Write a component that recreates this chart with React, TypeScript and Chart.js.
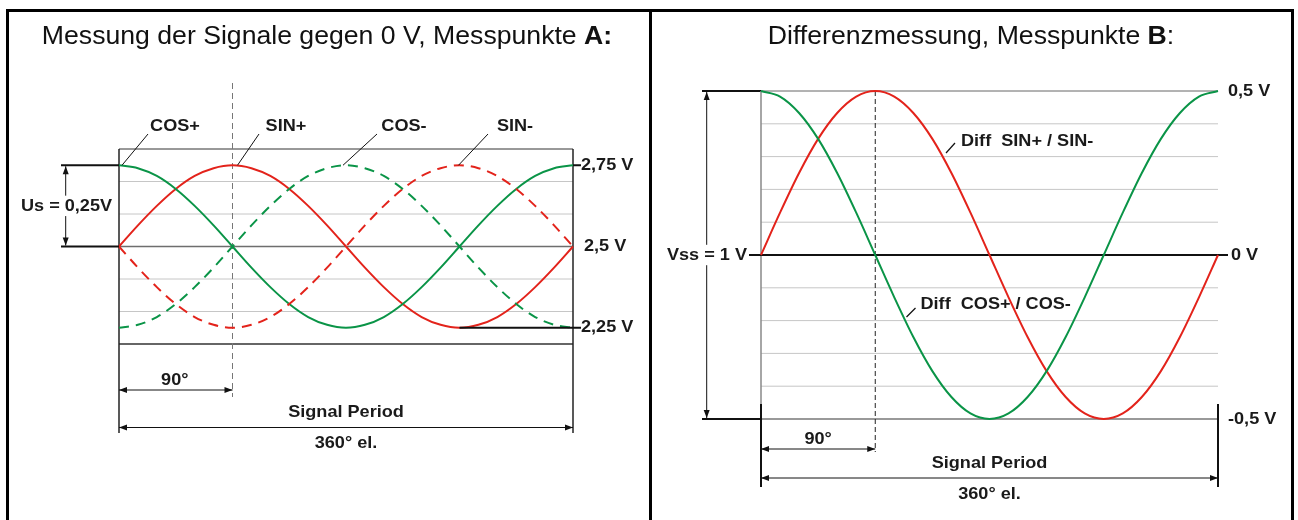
import { useEffect, useRef } from 'react';
import { Chart, registerables } from 'chart.js';

Chart.register(...registerables);

// Electrical angle of one signal period, sampled every 15°
const degrees = [0, 15, 30, 45, 60, 75, 90, 105, 120, 135, 150, 165, 180, 195, 210, 225, 240, 255, 270, 285, 300, 315, 330, 345, 360];

// Single-ended signals against 0 V (volts)
const cosPlus = [2.75, 2.741, 2.717, 2.677, 2.625, 2.565, 2.5, 2.435, 2.375, 2.323, 2.283, 2.259, 2.25, 2.259, 2.283, 2.323, 2.375, 2.435, 2.5, 2.565, 2.625, 2.677, 2.717, 2.741, 2.75];
const sinPlus = [2.5, 2.565, 2.625, 2.677, 2.717, 2.741, 2.75, 2.741, 2.717, 2.677, 2.625, 2.565, 2.5, 2.435, 2.375, 2.323, 2.283, 2.259, 2.25, 2.259, 2.283, 2.323, 2.375, 2.435, 2.5];
const cosMinus = [2.25, 2.259, 2.283, 2.323, 2.375, 2.435, 2.5, 2.565, 2.625, 2.677, 2.717, 2.741, 2.75, 2.741, 2.717, 2.677, 2.625, 2.565, 2.5, 2.435, 2.375, 2.323, 2.283, 2.259, 2.25];
const sinMinus = [2.5, 2.435, 2.375, 2.323, 2.283, 2.259, 2.25, 2.259, 2.283, 2.323, 2.375, 2.435, 2.5, 2.565, 2.625, 2.677, 2.717, 2.741, 2.75, 2.741, 2.717, 2.677, 2.625, 2.565, 2.5];

// Differential signals (volts)
const diffSin = [0, 0.129, 0.25, 0.354, 0.433, 0.483, 0.5, 0.483, 0.433, 0.354, 0.25, 0.129, 0, -0.129, -0.25, -0.354, -0.433, -0.483, -0.5, -0.483, -0.433, -0.354, -0.25, -0.129, 0];
const diffCos = [0.5, 0.483, 0.433, 0.354, 0.25, 0.129, 0, -0.129, -0.25, -0.354, -0.433, -0.483, -0.5, -0.483, -0.433, -0.354, -0.25, -0.129, 0, 0.129, 0.25, 0.354, 0.433, 0.483, 0.5];

// Level labels
const levelsA = [2.75, 2.5, 2.25];
const levelLabelsA = ['2,75 V', '2,5 V', '2,25 V'];
const levelsB = [0.5, 0, -0.5];
const levelLabelsB = ['0,5 V', '0 V', '-0,5 V'];
const gridA = [2.3, 2.4, 2.6, 2.7];
const gridB = [-0.4, -0.3, -0.2, -0.1, 0.1, 0.2, 0.3, 0.4];

const RED = '#e3231b';
const GREEN = '#0a9447';
const FONT = '"Liberation Sans", Arial, sans-serif';
const LABEL_SIZE = 17;
const LABEL_SX = 1.065;
const TITLE_SIZE = 25;
const TITLE_SX = 1.065;
const W_LEFT = 652;
const W_RIGHT = 646;
const H = 520;

type Ctx = CanvasRenderingContext2D;

function line(ctx: Ctx, x1: number, y1: number, x2: number, y2: number, color: string, width: number, dash: number[] = []) {
  ctx.save();
  ctx.strokeStyle = color;
  ctx.lineWidth = width;
  ctx.setLineDash(dash);
  ctx.beginPath();
  ctx.moveTo(x1, y1);
  ctx.lineTo(x2, y2);
  ctx.stroke();
  ctx.restore();
}

function head(ctx: Ctx, x: number, y: number, ang: number, color: string) {
  const len = 8;
  const hw = 3;
  ctx.save();
  ctx.fillStyle = color;
  ctx.translate(x, y);
  ctx.rotate(ang);
  ctx.beginPath();
  ctx.moveTo(0, 0);
  ctx.lineTo(-len, -hw);
  ctx.lineTo(-len, hw);
  ctx.closePath();
  ctx.fill();
  ctx.restore();
}

function arrow(ctx: Ctx, x1: number, y1: number, x2: number, y2: number, color = '#111', width = 1) {
  line(ctx, x1, y1, x2, y2, color, width);
  const a = Math.atan2(y2 - y1, x2 - x1);
  head(ctx, x2, y2, a, color);
  head(ctx, x1, y1, a + Math.PI, color);
}

// Bold label, slightly widened to the drawing's lettering
function text(ctx: Ctx, s: string, x: number, y: number, align: CanvasTextAlign, bg = false) {
  ctx.save();
  ctx.font = `bold ${LABEL_SIZE}px ${FONT}`;
  ctx.textBaseline = 'middle';
  const w = ctx.measureText(s).width * LABEL_SX;
  const left = align === 'center' ? x - w / 2 : align === 'right' ? x - w : x;
  if (bg) {
    ctx.fillStyle = '#fff';
    ctx.fillRect(left - 2, y - LABEL_SIZE * 0.6, w + 4, LABEL_SIZE * 1.2);
  }
  ctx.translate(left, y);
  ctx.scale(LABEL_SX, 1);
  ctx.textAlign = 'left';
  ctx.fillStyle = '#1a1a1a';
  ctx.fillText(s, 0, 0);
  ctx.restore();
}

// Title with a regular part, a bold part and an optional regular tail
function title(ctx: Ctx, cx: number, y: number, a: string, b: string, c: string) {
  ctx.save();
  ctx.textBaseline = 'middle';
  ctx.textAlign = 'left';
  ctx.fillStyle = '#111';
  const reg = `${TITLE_SIZE}px ${FONT}`;
  const bld = `bold ${TITLE_SIZE}px ${FONT}`;
  ctx.font = reg;
  const wa = ctx.measureText(a).width;
  const wc = ctx.measureText(c).width;
  ctx.font = bld;
  const wb = ctx.measureText(b).width;
  const total = (wa + wb + wc) * TITLE_SX;
  ctx.translate(cx - total / 2, y);
  ctx.scale(TITLE_SX, 1);
  ctx.font = reg;
  ctx.fillText(a, 0, 0);
  ctx.font = bld;
  ctx.fillText(b, wa, 0);
  ctx.font = reg;
  ctx.fillText(c, wa + wb, 0);
  ctx.restore();
}

const panelA = {
  id: 'panelA',
  beforeDatasetsDraw(chart: any) {
    const { ctx, chartArea: a, scales } = chart;
    const ys = scales.y;
    // outer frame
    line(ctx, 7.5, 9, 7.5, H, '#000', 3);
    line(ctx, 6, 10.5, W_LEFT, 10.5, '#000', 3);
    line(ctx, 650.5, 9, 650.5, H, '#000', 3);
    // grid
    gridA.forEach((v) => line(ctx, a.left, ys.getPixelForValue(v), a.right, ys.getPixelForValue(v), '#c6c6c6', 1));
    line(ctx, a.left, ys.getPixelForValue(2.5), a.right, ys.getPixelForValue(2.5), '#6e6e6e', 1.5);
    // box and extension lines
    line(ctx, a.left, a.top, a.right, a.top, '#333', 1);
    line(ctx, a.left, a.bottom, a.right, a.bottom, '#333', 1.5);
    line(ctx, a.left, a.top, a.left, a.bottom + 89, '#222', 1.5);
    line(ctx, a.right, a.top, a.right, a.bottom + 89, '#222', 1.5);
    // 90° marker
    const x90 = scales.x.getPixelForValue(90);
    line(ctx, x90, 83, x90, a.bottom + 53, '#777', 1, [6, 4]);
  },
  afterDatasetsDraw(chart: any) {
    const { ctx, chartArea: a, scales } = chart;
    const xs = scales.x;
    const ys = scales.y;
    title(ctx, 327, 37, 'Messung der Signale gegen 0 V, Messpunkte ', 'A:', '');

    // level labels on the right
    const yTop = ys.getPixelForValue(levelsA[0]);
    const yMid = ys.getPixelForValue(levelsA[1]);
    const yLow = ys.getPixelForValue(levelsA[2]);
    line(ctx, a.right, yTop, a.right + 8, yTop, '#111', 2);
    line(ctx, xs.getPixelForValue(270), yLow, a.right + 8, yLow, '#111', 2);
    text(ctx, levelLabelsA[0], a.right + 8, yTop, 'left');
    text(ctx, levelLabelsA[1], a.right + 11, yMid, 'left');
    text(ctx, levelLabelsA[2], a.right + 8, yLow, 'left');

    // Us amplitude marker
    line(ctx, 61, yTop, a.left, yTop, '#111', 2);
    line(ctx, 61, yMid, a.left, yMid, '#111', 2);
    arrow(ctx, 65.7, yTop + 1, 65.7, yMid - 1);
    text(ctx, 'Us = 0,25V', 66.5, (yTop + yMid) / 2, 'center', true);

    // curve labels with leader lines
    const labels: [string, number, number][] = [
      ['COS+', 175, 0],
      ['SIN+', 286, 90],
      ['COS-', 404, 180],
      ['SIN-', 515, 270],
    ];
    labels.forEach(([s, cx, deg]) => {
      const px = xs.getPixelForValue(deg);
      const tx = deg === 0 ? 122 : px + 5 + (deg === 180 ? -8 : 0) + (deg === 270 ? -6 : 0);
      line(ctx, cx - 27, 134, tx, yTop, '#111', 1);
      text(ctx, s, cx, 126, 'center');
    });

    // period dimensions
    const x90 = xs.getPixelForValue(90);
    text(ctx, '90°', (a.left + x90) / 2 - 1, a.bottom + 36, 'center');
    arrow(ctx, a.left, a.bottom + 46, x90, a.bottom + 46);
    const cx = (a.left + a.right) / 2;
    text(ctx, 'Signal Period', cx, a.bottom + 68, 'center');
    arrow(ctx, a.left, a.bottom + 83.5, a.right, a.bottom + 83.5);
    text(ctx, '360° el.', cx, a.bottom + 99, 'center');
  },
};

const panelB = {
  id: 'panelB',
  beforeDatasetsDraw(chart: any) {
    const { ctx, chartArea: a, scales } = chart;
    const ys = scales.y;
    // outer frame
    line(ctx, 0, 10.5, 642, 10.5, '#000', 3);
    line(ctx, 640.5, 9, 640.5, H, '#000', 3);
    // grid
    gridB.forEach((v) => line(ctx, a.left, ys.getPixelForValue(v), a.right, ys.getPixelForValue(v), '#c6c6c6', 1));
    const yTop = ys.getPixelForValue(levelsB[0]);
    const yLow = ys.getPixelForValue(levelsB[2]);
    line(ctx, a.left, yTop, a.right, yTop, '#666', 1);
    line(ctx, a.left, yLow, a.right, yLow, '#777', 1.5);
    line(ctx, a.left - 59, yTop, a.left, yTop, '#111', 2);
    line(ctx, a.left - 59, yLow, a.left, yLow, '#111', 2);
    line(ctx, a.left, a.top, a.left, a.bottom - 15, '#888', 1.5);
    line(ctx, a.left, a.bottom - 15, a.left, a.bottom + 68, '#111', 2);
    line(ctx, a.right, a.bottom - 15, a.right, a.bottom + 68, '#111', 2);
    // 90° marker
    const x90 = scales.x.getPixelForValue(90);
    line(ctx, x90, a.top, x90, a.bottom + 33, '#222', 1, [5, 3]);
    // zero line
    const y0 = ys.getPixelForValue(levelsB[1]);
    line(ctx, a.left - 13, y0, a.right + 10, y0, '#111', 2);
  },
  afterDatasetsDraw(chart: any) {
    const { ctx, chartArea: a, scales } = chart;
    const xs = scales.x;
    const ys = scales.y;
    title(ctx, 319, 37, 'Differenzmessung, Messpunkte ', 'B', ':');

    const yTop = ys.getPixelForValue(levelsB[0]);
    const y0 = ys.getPixelForValue(levelsB[1]);
    const yLow = ys.getPixelForValue(levelsB[2]);
    text(ctx, levelLabelsB[0], a.right + 10, yTop, 'left');
    text(ctx, levelLabelsB[1], a.right + 13, y0, 'left');
    text(ctx, levelLabelsB[2], a.right + 10, yLow, 'left');

    // Vss amplitude marker
    arrow(ctx, 54.7, yTop + 1, 54.7, yLow - 1);
    text(ctx, 'Vss = 1 V', a.left - 14, y0, 'right', true);

    // curve labels
    line(ctx, 294, 153, 303, 143, '#111', 1.2);
    text(ctx, 'Diff  SIN+ / SIN-', 309, 141, 'left');
    line(ctx, 254.5, 317, 263.5, 308, '#111', 1.2);
    text(ctx, 'Diff  COS+ / COS-', 268.5, 304, 'left');

    // period dimensions
    const x90 = xs.getPixelForValue(90);
    text(ctx, '90°', (a.left + x90) / 2, a.bottom + 20, 'center');
    arrow(ctx, a.left, a.bottom + 30, x90, a.bottom + 30);
    const cx = (a.left + a.right) / 2;
    text(ctx, 'Signal Period', cx, a.bottom + 44, 'center');
    arrow(ctx, a.left, a.bottom + 59, a.right, a.bottom + 59);
    text(ctx, '360° el.', cx, a.bottom + 75, 'center');
  },
};

function series(values: number[], color: string, dashed: boolean) {
  return {
    data: degrees.map((d, i) => ({ x: d, y: values[i] })),
    borderColor: color,
    borderWidth: 2,
    borderDash: dashed ? [10, 7] : [],
    pointRadius: 0,
    fill: false,
    cubicInterpolationMode: 'monotone' as const,
    clip: false as const,
  };
}

function baseOptions(padding: any, yMin: number, yMax: number) {
  return {
    animation: false as const,
    responsive: false,
    maintainAspectRatio: false,
    events: [] as any[],
    layout: { padding },
    scales: {
      x: { type: 'linear' as const, min: 0, max: 360, display: false },
      y: { type: 'linear' as const, min: yMin, max: yMax, display: false },
    },
    plugins: { legend: { display: false }, tooltip: { enabled: false }, title: { display: false } },
  };
}

export default function App() {
  const leftRef = useRef<HTMLCanvasElement>(null);
  const rightRef = useRef<HTMLCanvasElement>(null);

  useEffect(() => {
    document.body.style.margin = '0';
    const left = new Chart(leftRef.current!, {
      type: 'line',
      data: {
        datasets: [
          series(cosMinus, GREEN, true),
          series(sinMinus, RED, true),
          series(cosPlus, GREEN, false),
          series(sinPlus, RED, false),
        ],
      },
      options: baseOptions({ left: 119, right: W_LEFT - 573, top: 149, bottom: H - 344 }, 2.2, 2.8) as any,
      plugins: [panelA],
    });
    const right = new Chart(rightRef.current!, {
      type: 'line',
      data: {
        datasets: [series(diffCos, GREEN, false), series(diffSin, RED, false)],
      },
      options: baseOptions({ left: 761 - W_LEFT, right: W_LEFT + W_RIGHT - 1218, top: 91, bottom: H - 419 }, -0.5, 0.5) as any,
      plugins: [panelB],
    });
    return () => {
      left.destroy();
      right.destroy();
    };
  }, []);

  return (
    <div style={{ position: 'relative', width: W_LEFT + W_RIGHT, height: H, background: '#fff', overflow: 'hidden' }}>
      <canvas ref={leftRef} width={W_LEFT} height={H} style={{ position: 'absolute', left: 0, top: 0, width: W_LEFT, height: H }} />
      <canvas ref={rightRef} width={W_RIGHT} height={H} style={{ position: 'absolute', left: W_LEFT, top: 0, width: W_RIGHT, height: H }} />
    </div>
  );
}
